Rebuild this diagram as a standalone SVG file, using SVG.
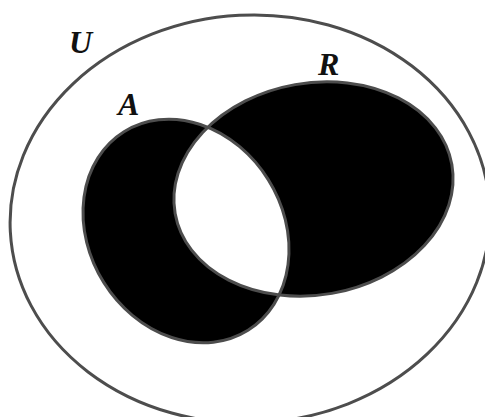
<svg xmlns="http://www.w3.org/2000/svg" width="485" height="417" viewBox="0 0 485 417">
<style>
.edge{fill:none;stroke:#4d4d4d;stroke-width:3}
.lbl{font-family:"Liberation Serif","DejaVu Serif",serif;font-style:italic;font-weight:bold;font-size:32px;fill:#111}
</style>
<defs>
<ellipse id="eA" cx="186" cy="231" rx="117" ry="97" transform="rotate(58 186 231)"/>
<ellipse id="eR" cx="313.5" cy="189" rx="140.5" ry="106" transform="rotate(-10 313.5 189)"/>
<clipPath id="clipA"><use href="#eA"/></clipPath>
</defs>
<rect width="485" height="417" fill="#fff"/>
<g id="U">
<ellipse class="edge" cx="250" cy="219" rx="240" ry="204" transform="rotate(-3 250 219)"/>
<text class="lbl" x="69" y="53">U</text>
</g>
<g id="A">
<use href="#eA" fill="#000"/>
<text class="lbl" x="118" y="115">A</text>
</g>
<g id="R">
<use href="#eR" fill="#000"/>
<text class="lbl" x="318" y="75">R</text>
</g>
<g id="intersection">
<use href="#eR" fill="#fff" clip-path="url(#clipA)"/>
</g>
<g id="outlines">
<use href="#eA" class="edge"/>
<use href="#eR" class="edge"/>
</g>
</svg>
